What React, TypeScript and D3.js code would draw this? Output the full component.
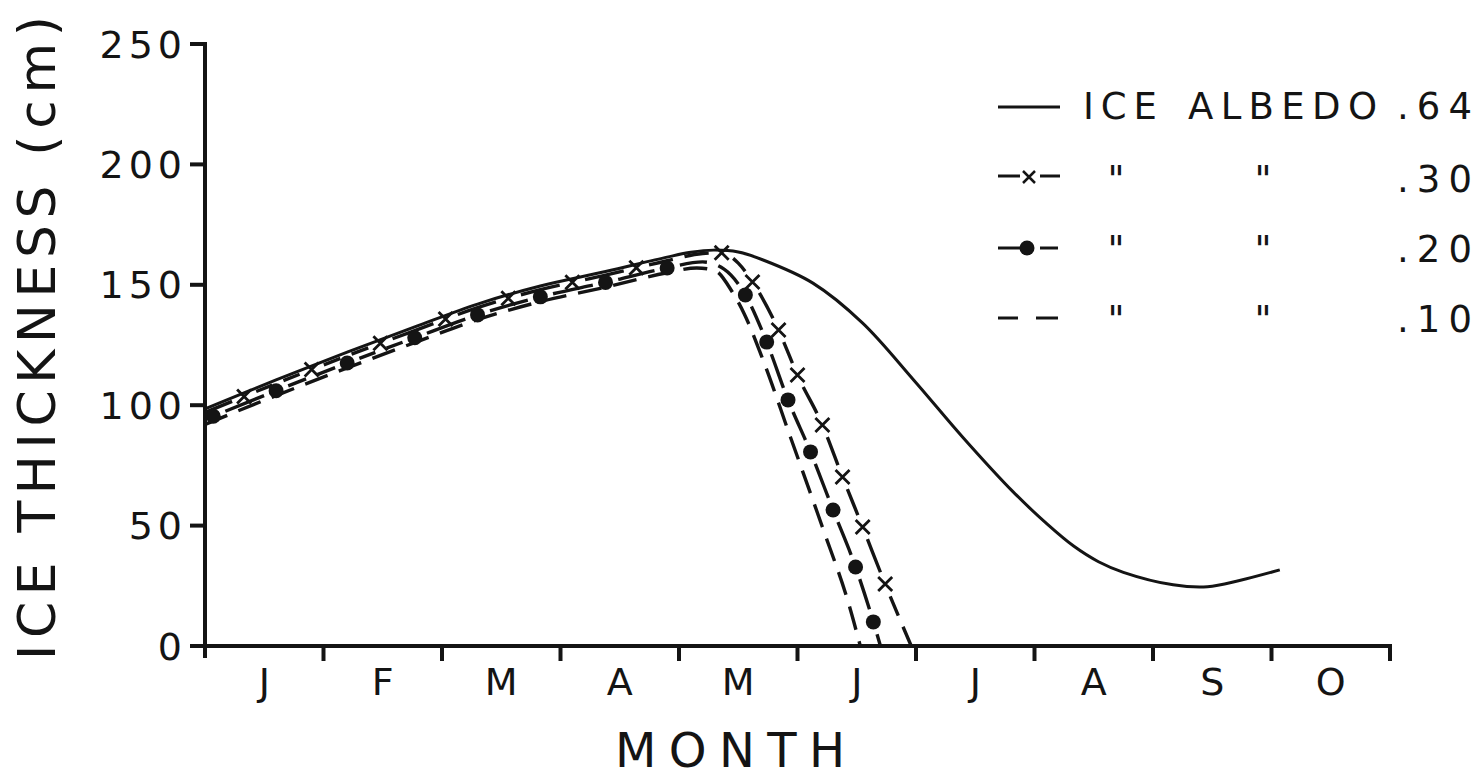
import React, { useEffect, useRef } from "react";
import * as d3 from "d3";

// ---- data (time in months from 1 Jan; thickness in cm) ----
const MONTHS = ["J", "F", "M", "A", "M", "J", "J", "A", "S", "O"];
const Y_TICKS = [0, 50, 100, 150, 200, 250];

const T_064 = [0, 0.6, 1.2, 1.77, 2.3, 2.83, 3.38, 3.9, 4.1, 4.29, 4.5, 4.71, 5.13, 5.55, 5.98, 6.4, 6.82, 7.11, 7.33, 7.54, 7.75, 8.17, 8.46, 8.73, 9.07];
const V_064 = [98.5, 110.5, 122, 132.5, 142, 149.5, 155.5, 161.5, 163.5, 164.4, 163.6, 160.3, 150.7, 134.1, 110.5, 86.4, 64, 50.5, 41.5, 35, 30.6, 25.4, 24.6, 27.2, 31.6];

const T_030 = [0, 0.6, 1.2, 1.77, 2.3, 2.83, 3.38, 3.9, 4.2, 4.36, 4.5, 4.62, 4.84, 5.0, 5.21, 5.38, 5.55, 5.74, 5.96];
const V_030 = [97, 109, 120.5, 131, 140.5, 148, 154, 160, 163, 163.3, 159, 151.2, 131.2, 112.5, 91.8, 70.2, 49.4, 25.7, 0];

const T_020 = [0, 0.6, 1.2, 1.77, 2.3, 2.83, 3.38, 3.9, 4.2, 4.38, 4.56, 4.74, 4.92, 5.11, 5.3, 5.49, 5.64, 5.7];
const V_020 = [94, 106, 117.5, 128, 137.5, 145, 151, 157, 159.5, 156.5, 145.8, 126.2, 102.2, 80.6, 56.5, 32.8, 10, 0];

const T_010 = [0, 0.6, 1.2, 1.77, 2.3, 2.83, 3.38, 3.9, 4.15, 4.3, 4.45, 4.55, 4.7, 4.94, 5.21, 5.44, 5.53];
const V_010 = [92, 104, 115.5, 126, 135.5, 143, 149, 155, 157, 156, 147, 138, 120, 86.8, 49.4, 16.2, 0];

const MARK_T_020 = [0.07, 0.6, 1.2, 1.77, 2.3, 2.83, 3.38, 3.9, 4.56, 4.74, 4.92, 5.11, 5.3, 5.49, 5.64];
const MARK_T_030 = [0.33, 0.9, 1.48, 2.03, 2.56, 3.1, 3.64, 4.36, 4.62, 4.84, 5.0, 5.21, 5.38, 5.55, 5.74];

const LEGEND_VALUES = [".64", ".30", ".20", ".10"];

const FONT = "'DejaVu Sans', sans-serif";
const INK = "#141414";

export default function App() {
  const ref = useRef<SVGSVGElement>(null);

  useEffect(() => {
    const svg = d3.select(ref.current);
    svg.selectAll("*").remove();

    const x = d3.scaleLinear().domain([0, 10]).range([205, 1390]);
    const y = d3.scaleLinear().domain([0, 250]).range([646, 44]);

    const line = d3
      .line<[number, number]>()
      .x((d) => x(d[0]))
      .y((d) => y(d[1]))
      .curve(d3.curveMonotoneX);
    const smooth = d3
      .line<[number, number]>()
      .x((d) => x(d[0]))
      .y((d) => y(d[1]))
      .curve(d3.curveCatmullRom.alpha(0.5));

    const zip = (t: number[], v: number[]) => t.map((tt, i) => [tt, v[i]] as [number, number]);

    const g = svg.append("g");

    // axes
    g.append("line").attr("x1", 205).attr("x2", 205).attr("y1", y(250) - 2).attr("y2", y(0) + 12)
      .attr("stroke", INK).attr("stroke-width", 4);
    g.append("line").attr("x1", 203).attr("x2", x(10) + 2).attr("y1", y(0)).attr("y2", y(0))
      .attr("stroke", INK).attr("stroke-width", 4);

    Y_TICKS.forEach((v) => {
      g.append("line").attr("x1", 190).attr("x2", 205).attr("y1", y(v)).attr("y2", y(v))
        .attr("stroke", INK).attr("stroke-width", 4);
      g.append("text").attr("x", 182 + 5).attr("y", y(v)).attr("dy", "0.36em")
        .attr("text-anchor", "end").attr("font-family", FONT).attr("font-size", 38)
        .attr("letter-spacing", 5).attr("fill", INK).text(String(v));
    });

    d3.range(1, 11).forEach((i) => {
      g.append("line").attr("x1", x(i)).attr("x2", x(i)).attr("y1", y(0)).attr("y2", y(0) + 15)
        .attr("stroke", INK).attr("stroke-width", 4);
    });
    MONTHS.forEach((m, i) => {
      g.append("text").attr("x", x(i + 0.5)).attr("y", 695).attr("text-anchor", "middle")
        .attr("font-family", FONT).attr("font-size", 38).attr("fill", INK).text(m);
    });

    // axis titles
    g.append("text").attr("transform", "translate(55,338) rotate(-90)")
      .attr("text-anchor", "middle").attr("font-family", FONT).attr("font-size", 52)
      .attr("textLength", 644).attr("lengthAdjust", "spacing").attr("fill", INK)
      .text("ICE THICKNESS (cm)");
    g.append("text").attr("x", 730).attr("y", 767).attr("text-anchor", "middle")
      .attr("font-family", FONT).attr("font-size", 48).attr("textLength", 230)
      .attr("lengthAdjust", "spacing").attr("fill", INK).text("MONTH");

    // series
    g.append("path").attr("d", smooth(zip(T_064, V_064))!).attr("fill", "none")
      .attr("stroke", INK).attr("stroke-width", 3);
    g.append("path").attr("d", line(zip(T_010, V_010))!).attr("fill", "none")
      .attr("stroke", INK).attr("stroke-width", 3.4).attr("stroke-dasharray", "24,12");

    const lengthAtX = (p: SVGPathElement, tx: number) => {
      let lo = 0, hi = p.getTotalLength();
      for (let k = 0; k < 40; k++) {
        const mid = (lo + hi) / 2;
        if (p.getPointAtLength(mid).x < tx) lo = mid; else hi = mid;
      }
      return (lo + hi) / 2;
    };

    // dashes filling each interval between markers, leaving a gap round each marker
    const markedSeries = (t: number[], v: number[], marks: number[], gap: number) => {
      const path = g.append("path").attr("d", line(zip(t, v))!).attr("fill", "none")
        .attr("stroke", INK).attr("stroke-width", 3.4);
      const node = path.node() as SVGPathElement;
      const total = node.getTotalLength();
      const Ls = marks.map((m) => lengthAtX(node, x(m)));
      const bounds = [-gap, ...Ls, total + gap];
      const dash: number[] = [];
      let pos = 0;
      for (let i = 0; i < bounds.length - 1; i++) {
        const a = Math.max(0, bounds[i] + gap);
        const b = Math.min(total, bounds[i + 1] - gap);
        const len = b - a;
        if (len <= 2) continue;
        const n = Math.max(1, Math.round((len + 12) / 38));
        const dl = (len - (n - 1) * 12) / n;
        for (let k = 0; k < n; k++) {
          const s = a + k * (dl + 12);
          dash.push(Math.max(0, s - pos), dl); // gap, dash
          pos = s + dl;
        }
      }
      dash.push(total + 100);
      path.attr("stroke-dasharray", [0, ...dash].join(","));
      return Ls.map((L) => node.getPointAtLength(L));
    };

    const dots = markedSeries(T_020, V_020, MARK_T_020, 13);
    const crosses = markedSeries(T_030, V_030, MARK_T_030, 13);

    dots.forEach((p) => {
      g.append("circle").attr("cx", p.x).attr("cy", p.y).attr("r", 7.5).attr("fill", INK);
    });
    const xPath = "M-7,-7L7,7M-7,7L7,-7";
    crosses.forEach((p) => {
      g.append("path").attr("d", xPath).attr("transform", `translate(${p.x},${p.y})`)
        .attr("stroke", INK).attr("stroke-width", 2.8).attr("fill", "none");
    });

    // legend
    const rowsY = [107, 176, 248, 318];
    const baseY = [119, 192, 262, 332];
    const lg = svg.append("g");
    lg.append("line").attr("x1", 998).attr("x2", 1060).attr("y1", rowsY[0]).attr("y2", rowsY[0])
      .attr("stroke", INK).attr("stroke-width", 3);
    // .30
    lg.append("line").attr("x1", 998).attr("x2", 1020).attr("y1", rowsY[1]).attr("y2", rowsY[1])
      .attr("stroke", INK).attr("stroke-width", 3);
    lg.append("line").attr("x1", 1040).attr("x2", 1060).attr("y1", rowsY[1]).attr("y2", rowsY[1])
      .attr("stroke", INK).attr("stroke-width", 3);
    lg.append("path").attr("d", "M-6,-6L6,6M-6,6L6,-6").attr("transform", `translate(1029,${rowsY[1] + 1})`)
      .attr("stroke", INK).attr("stroke-width", 2.5).attr("fill", "none");
    // .20
    lg.append("line").attr("x1", 998).attr("x2", 1020).attr("y1", rowsY[2]).attr("y2", rowsY[2])
      .attr("stroke", INK).attr("stroke-width", 3);
    lg.append("line").attr("x1", 1040).attr("x2", 1058).attr("y1", rowsY[2]).attr("y2", rowsY[2])
      .attr("stroke", INK).attr("stroke-width", 3);
    lg.append("circle").attr("cx", 1027).attr("cy", rowsY[2]).attr("r", 7.5).attr("fill", INK);
    // .10
    lg.append("line").attr("x1", 998).attr("x2", 1018).attr("y1", rowsY[3]).attr("y2", rowsY[3])
      .attr("stroke", INK).attr("stroke-width", 3);
    lg.append("line").attr("x1", 1036).attr("x2", 1058).attr("y1", rowsY[3]).attr("y2", rowsY[3])
      .attr("stroke", INK).attr("stroke-width", 3);

    const txt = (xx: number, yy: number, s: string, len?: number, anchor = "start") => {
      const t = lg.append("text").attr("x", xx).attr("y", yy).attr("font-family", FONT)
        .attr("font-size", 37).attr("fill", INK).attr("text-anchor", anchor).text(s);
      if (len) t.attr("textLength", len).attr("lengthAdjust", "spacing");
      return t;
    };
    txt(1083, baseY[0], "ICE", 74);
    txt(1188, baseY[0], "ALBEDO", 189);
    LEGEND_VALUES.forEach((s, i) => txt(1397, baseY[i], s, 75));
    [1, 2, 3].forEach((i) => {
      txt(1116, baseY[i], "\"", undefined, "middle");
      txt(1263, baseY[i], "\"", undefined, "middle");
    });
  }, []);

  return (
    <svg
      ref={ref}
      width={1481}
      height={779}
      style={{ position: "absolute", left: 0, top: 0, background: "#fff", display: "block" }}
    />
  );
}
